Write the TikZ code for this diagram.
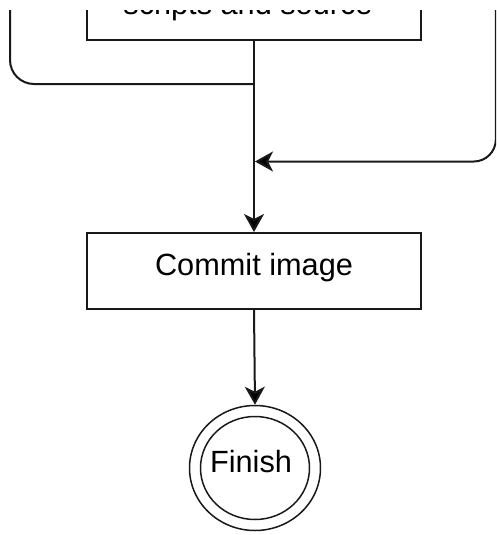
\documentclass[tikz,border=0pt]{standalone}
\usepackage{fontspec}
\setmainfont{Liberation Sans}
\usetikzlibrary{arrows.meta,shapes.geometric}
\begin{document}
\begin{tikzpicture}[x=1pt,y=-1pt,
  line/.style={line width=2pt, draw=black!90},
  tip/.style={-{Stealth[length=18pt,width=20pt,inset=5pt,fill=black]}},
  boxnode/.style={draw=black!90, line width=2pt, minimum width=334pt, minimum height=76pt, inner sep=0pt,
    font=\fontsize{30.7}{36}\selectfont, text height=22pt, text depth=14pt},
  lbl/.style={font=\fontsize{30.7}{36}\selectfont, inner sep=0pt},
  ring/.style={draw=black!90, line width=1.5pt, ellipse, inner sep=0pt}]
\useasboundingbox (0,0) rectangle (496,535);
\clip (0,10.5) rectangle (496,535);
% top box (cut off by the picture edge)
\node[draw=black!90, line width=2pt, minimum width=334pt, minimum height=120pt, anchor=south, inner sep=0pt] (src) at (254,41) {};
\node[lbl, anchor=base] (srctext) at (248,15) {scripts and source};
% junctions on the centre line
\coordinate (jl) at (254,84);
\coordinate (jr) at (255,161.5);
% commit box
\node[boxnode] (commit) at (254,271) {Commit image};
% finish
\node[ring, minimum width=131pt, minimum height=125pt] (finish) at (255,468) {};
\node[ring, minimum width=109pt, minimum height=103pt] (finishin) at (255,468) {};
\node[lbl, anchor=base] (finishtext) at (251,472) {Finish};
% connectors
\draw[line, tip] (src.south) -- (commit.north);
\draw[line, rounded corners=24pt] (10,8) |- (jl);
\draw[line, tip, rounded corners=22pt] (495.8,8) |- (jr);
\draw[line, tip] (commit.south) -- (finish.north);
\end{tikzpicture}
\end{document}
